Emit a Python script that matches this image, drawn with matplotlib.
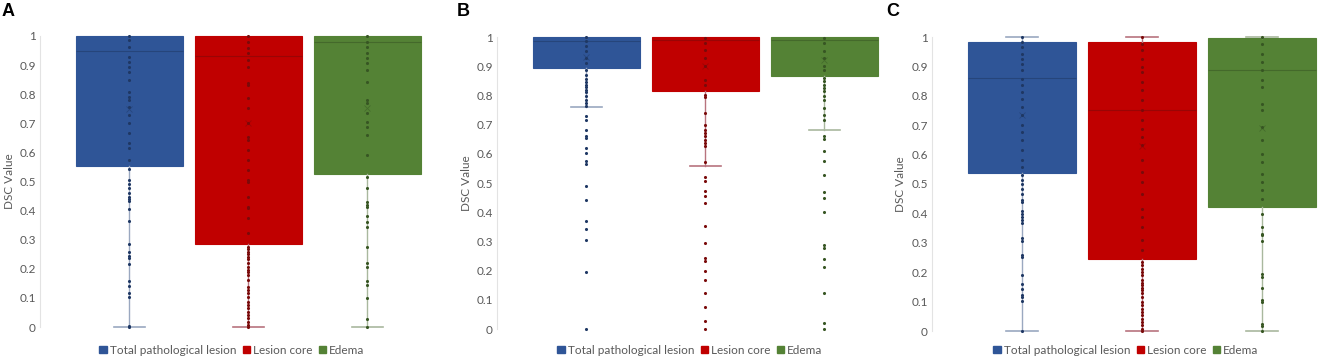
import numpy as np
import matplotlib
matplotlib.use('Agg')
import matplotlib.pyplot as plt
from matplotlib.patches import Patch

plt.rcParams['font.family'] = ['Lato', 'DejaVu Sans']

series_names = ['Total pathological lesion', 'Lesion core', 'Edema']
box_colors = ['#2F5597', '#C00000', '#548235']
dot_colors = ['#1F3864', '#7A0A0A', '#375623']
cap_colors = ['#9AA8C0', '#B8737E', '#A9B89E']
panel_labels = ['A', 'B', 'C']

# box statistics per panel: (q1, median, q3, whisker low, whisker high, mean)
stats_A = [(0.554, 0.948, 1.0, 0.0, 1.0, 0.75),
           (0.284, 0.932, 1.0, 0.0, 1.0, 0.70),
           (0.526, 0.980, 1.0, 0.0, 1.0, 0.752)]
stats_B = [(0.895, 0.985, 1.0, 0.761, 1.0, 0.93),
           (0.815, 0.990, 1.0, 0.557, 1.0, 0.90),
           (0.866, 0.990, 1.0, 0.683, 1.0, 0.92)]
stats_C = [(0.537, 0.862, 0.983, 0.0, 1.0, 0.734),
           (0.246, 0.752, 0.983, 0.0, 1.0, 0.63),
           (0.422, 0.887, 0.998, 0.0, 1.0, 0.69)]

# individual DSC points
pts_A_total = [1.0, 0.986, 0.963, 0.929, 0.912, 0.895, 0.877, 0.849, 0.809, 0.792, 0.780, 0.757,
               0.729, 0.700, 0.666, 0.631, 0.614, 0.574, 0.542, 0.505, 0.490, 0.477, 0.462, 0.448,
               0.439, 0.433, 0.404, 0.365, 0.284, 0.259, 0.244, 0.236, 0.215, 0.159, 0.141, 0.116,
               0.102, 0.005, 0.0]
pts_A_core = [1.0, 0.981, 0.958, 0.940, 0.918, 0.895, 0.837, 0.831, 0.786, 0.751, 0.700, 0.654,
              0.643, 0.608, 0.574, 0.540, 0.505, 0.499, 0.448, 0.414, 0.408, 0.373, 0.322, 0.276,
              0.267, 0.259, 0.251, 0.242, 0.233, 0.219, 0.207, 0.196, 0.190, 0.179, 0.162, 0.139,
              0.127, 0.116, 0.104, 0.087, 0.076, 0.064, 0.053, 0.041, 0.030, 0.018, 0.007, 0.0]
pts_A_edema = [1.0, 0.981, 0.963, 0.940, 0.923, 0.906, 0.883, 0.843, 0.780, 0.769, 0.734, 0.706,
               0.689, 0.660, 0.591, 0.517, 0.477, 0.428, 0.419, 0.411, 0.383, 0.362, 0.345, 0.276,
               0.219, 0.207, 0.158, 0.144, 0.101, 0.026, 0.0]

pts_B_total = [1.0, 0.985, 0.968, 0.951, 0.928, 0.911, 0.888, 0.871, 0.856, 0.845, 0.837, 0.829,
               0.820, 0.811, 0.797, 0.785, 0.774, 0.765, 0.731, 0.715, 0.683, 0.660, 0.654, 0.620,
               0.603, 0.574, 0.566, 0.489, 0.442, 0.369, 0.344, 0.304, 0.194, 0.001]
pts_B_core = [0.997, 0.979, 0.957, 0.928, 0.900, 0.854, 0.837, 0.803, 0.795, 0.740, 0.700, 0.680,
              0.671, 0.660, 0.648, 0.637, 0.626, 0.571, 0.521, 0.506, 0.471, 0.454, 0.432, 0.352,
              0.295, 0.243, 0.232, 0.197, 0.169, 0.123, 0.075, 0.026, 0.001]
pts_B_edema = [0.997, 0.979, 0.951, 0.928, 0.900, 0.888, 0.860, 0.848, 0.837, 0.825, 0.814, 0.797,
               0.785, 0.757, 0.734, 0.715, 0.662, 0.651, 0.608, 0.574, 0.529, 0.469, 0.449, 0.400,
               0.289, 0.277, 0.240, 0.212, 0.123, 0.021, 0.0]

pts_C_total = [1.0, 0.983, 0.966, 0.943, 0.926, 0.909, 0.887, 0.858, 0.836, 0.813, 0.790, 0.762,
               0.734, 0.700, 0.677, 0.649, 0.615, 0.580, 0.558, 0.529, 0.512, 0.501, 0.484, 0.467,
               0.444, 0.439, 0.408, 0.399, 0.388, 0.376, 0.367, 0.317, 0.306, 0.257, 0.252, 0.189,
               0.161, 0.144, 0.121, 0.116, 0.102, 0.0]
pts_C_core = [1.0, 0.977, 0.955, 0.926, 0.898, 0.881, 0.847, 0.819, 0.785, 0.751, 0.717, 0.688,
              0.660, 0.632, 0.580, 0.541, 0.507, 0.467, 0.416, 0.388, 0.354, 0.308, 0.274, 0.235,
              0.223, 0.212, 0.201, 0.189, 0.172, 0.163, 0.155, 0.147, 0.138, 0.129, 0.116, 0.099,
              0.087, 0.076, 0.065, 0.053, 0.042, 0.031, 0.019, 0.008, 0.0]
pts_C_edema = [1.0, 0.977, 0.943, 0.915, 0.887, 0.853, 0.830, 0.773, 0.751, 0.694, 0.649, 0.603,
               0.575, 0.535, 0.507, 0.478, 0.450, 0.399, 0.354, 0.331, 0.325, 0.306, 0.195, 0.184,
               0.147, 0.107, 0.099, 0.025, 0.016, 0.0]

yticks = [0, 0.1, 0.2, 0.3, 0.4, 0.5, 0.6, 0.7, 0.8, 0.9, 1]
ytick_labels = ['0', '0.1', '0.2', '0.3', '0.4', '0.5', '0.6', '0.7', '0.8', '0.9', '1']

panels = [
    (stats_A, [pts_A_total, pts_A_core, pts_A_edema]),
    (stats_B, [pts_B_total, pts_B_core, pts_B_edema]),
    (stats_C, [pts_C_total, pts_C_core, pts_C_edema]),
]

W, H = 1325, 364
fig = plt.figure(figsize=(W / 100, H / 100), dpi=100)

# layout in pixels: axis x, y of value 1, y of value 0, x-unit in px, legend centre x, ylabel x, label x
layout = [(40, 36, 327, 119, 232, 10, 2),
          (497, 37, 329, 119, 690, 466, 457),
          (932, 37, 331, 120, 1126, 900, 886)]

for (stats, pts), (ax0, y1, y0, unit, leg_x, ylab_x, lab_x), lab in zip(panels, layout, panel_labels):
    width_px = 3.5 * unit
    ax = fig.add_axes([ax0 / W, 1 - y0 / H, width_px / W, (y0 - y1) / H])
    ax.set_xlim(-0.75, 2.75)
    ax.set_ylim(0, 1)

    for i in range(3):
        q1, med, q3, lo, hi, mean = stats[i]
        bstat = dict(q1=q1, med=med, q3=q3, whislo=lo, whishi=hi, mean=mean, fliers=[])
        res = ax.bxp([bstat], positions=[i], widths=0.9, patch_artist=True,
                     showmeans=True, manage_ticks=False, capwidths=[0.26],
                     boxprops=dict(facecolor=box_colors[i], edgecolor=box_colors[i], linewidth=0.8),
                     medianprops=dict(color=dot_colors[i], linewidth=0.8, alpha=0.55),
                     whiskerprops=dict(color=cap_colors[i], linewidth=1.0),
                     capprops=dict(color=cap_colors[i], linewidth=1.2),
                     meanprops=dict(marker='x', markersize=4, markeredgecolor=dot_colors[i],
                                    markeredgewidth=0.6, alpha=0.5))
        for part in ['whiskers', 'caps', 'boxes', 'medians', 'means']:
            for artist in res[part]:
                artist.set_clip_on(False)
        # no cap drawn where the whisker has zero length
        if hi <= q3:
            res['caps'][1].set_visible(False)
        if lo >= q1:
            res['caps'][0].set_visible(False)
        ax.scatter(np.full(len(pts[i]), i), pts[i], s=5, color=dot_colors[i],
                   linewidths=0, zorder=4, clip_on=False)

    ax.set_yticks(yticks)
    ax.set_yticklabels(ytick_labels)
    ax.set_xticks([])
    ax.tick_params(axis='y', length=0, pad=3, labelsize=8.5, labelcolor='#595959')
    for s in ['top', 'right', 'bottom']:
        ax.spines[s].set_visible(False)
    ax.spines['left'].set_color('#E3E3E3')
    ax.spines['left'].set_linewidth(0.8)

    fig.text(ylab_x / W, 1 - (y0 + y1) / 2 / H, 'DSC Value', rotation=90,
             ha='center', va='center', fontsize=8.5, color='#595959')
    fig.text(lab_x / W, 1 - 3 / H, lab, ha='left', va='top', fontsize=13,
             fontweight='bold', family='Liberation Sans')

    handles = [Patch(facecolor=c, edgecolor=c) for c in box_colors]
    fig.legend(handles, series_names, loc='center', bbox_to_anchor=(leg_x / W, 1 - 350 / H),
               ncol=3, frameon=False, fontsize=8.5, labelcolor='#595959',
               handlelength=0.6, handleheight=0.6, handletextpad=0.3, columnspacing=0.5,
               borderpad=0)

fig.savefig('out.png', dpi=100)
